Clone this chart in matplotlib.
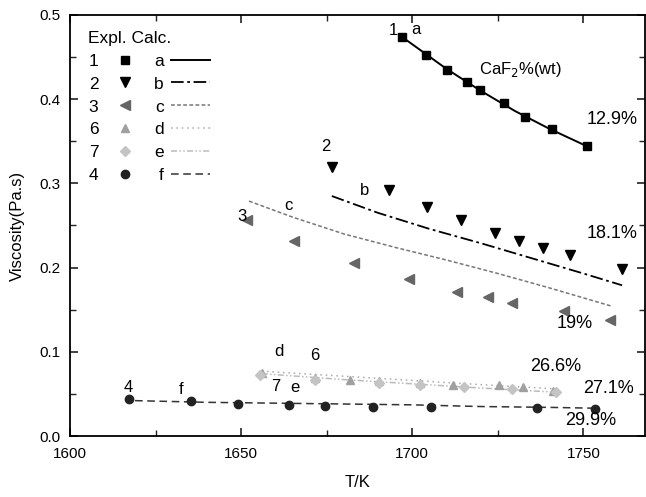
import matplotlib
matplotlib.use("Agg")
import matplotlib.pyplot as plt
from matplotlib.lines import Line2D
from matplotlib.ticker import MultipleLocator, FormatStrFormatter

plt.rcParams['font.family'] = ['Liberation Sans', 'DejaVu Sans']

# experimental viscosity, series 1..7 (T in K, viscosity in Pa.s)
t1 = [1697.0, 1704.0, 1710.1, 1716.0, 1719.9, 1726.9, 1733.0, 1740.9, 1751.1]
v1 = [0.474, 0.453, 0.435, 0.420, 0.411, 0.395, 0.379, 0.365, 0.344]
t2 = [1676.5, 1693.3, 1704.3, 1714.2, 1724.3, 1731.3, 1738.2, 1746.2, 1761.3]
v2 = [0.319, 0.292, 0.272, 0.257, 0.241, 0.232, 0.223, 0.215, 0.198]
t3 = [1651.7, 1665.5, 1683.0, 1699.1, 1713.1, 1722.0, 1729.1, 1744.2, 1757.9]
v3 = [0.257, 0.231, 0.206, 0.186, 0.171, 0.165, 0.158, 0.148, 0.138]
t6 = [1656.0, 1671.6, 1681.9, 1690.4, 1702.3, 1712.0, 1725.2, 1732.5, 1741.0]
v6 = [0.075, 0.069, 0.067, 0.065, 0.063, 0.061, 0.060, 0.058, 0.054]
t7 = [1655.5, 1671.6, 1690.4, 1702.3, 1715.0, 1729.0, 1742.0]
v7 = [0.072, 0.066, 0.063, 0.060, 0.058, 0.056, 0.052]
t4 = [1617.1, 1635.3, 1649.2, 1663.9, 1674.6, 1688.5, 1705.5, 1736.5, 1753.4]
v4 = [0.044, 0.041, 0.038, 0.037, 0.036, 0.035, 0.035, 0.033, 0.032]

# calculated curves a..f
ta = [1697.0, 1710.0, 1720.0, 1730.0, 1740.0, 1751.1]
va = [0.474, 0.436, 0.410, 0.386, 0.365, 0.344]
tb = [1676.5, 1690.0, 1705.0, 1720.0, 1735.0, 1750.0, 1761.3]
vb = [0.285, 0.265, 0.246, 0.229, 0.211, 0.193, 0.179]
tc = [1652.3, 1665.0, 1680.0, 1695.0, 1710.0, 1725.0, 1740.0, 1758.4]
vc = [0.279, 0.260, 0.240, 0.224, 0.209, 0.193, 0.176, 0.154]
td = [1656.0, 1680.0, 1700.0, 1720.0, 1742.0]
vd = [0.077, 0.071, 0.066, 0.061, 0.056]
te = [1656.0, 1680.0, 1700.0, 1720.0, 1742.0]
ve = [0.074, 0.067, 0.062, 0.057, 0.052]
tf = [1619.0, 1640.0, 1660.0, 1680.0, 1700.0, 1720.0, 1740.0, 1753.4]
vf = [0.042, 0.040, 0.039, 0.038, 0.037, 0.035, 0.034, 0.033]

expl_labels = ['1', '2', '3', '6', '7', '4']
calc_labels = ['a', 'b', 'c', 'd', 'e', 'f']

# marker / line styles per series
expl_style = [dict(marker='s', color='black', ms=6),
              dict(marker='v', color='black', ms=6.5),
              dict(marker='<', color='#666666', ms=6.5),
              dict(marker='^', color='#a0a0a0', ms=6),
              dict(marker='D', color='#c4c4c4', ms=5),
              dict(marker='o', color='#222222', ms=6)]
calc_style = [dict(color='black', lw=1.4, ls='-'),
              dict(color='black', lw=1.3, dashes=(7, 2, 1.5, 2)),
              dict(color='#777777', lw=1.1, dashes=(2.5, 1.5)),
              dict(color='#aaaaaa', lw=1.1, dashes=(1, 2.5)),
              dict(color='#bbbbbb', lw=1.1, dashes=(4, 1.5, 1, 1.5, 1, 1.5)),
              dict(color='#333333', lw=1.1, dashes=(5, 3))]

fig = plt.figure(figsize=(6.46, 4.97), dpi=100)
ax = fig.add_axes([70 / 646, 61 / 497, 575 / 646, 421 / 497])

for (t, v), st in zip([(ta, va), (tb, vb), (tc, vc), (td, vd), (te, ve), (tf, vf)],
                      calc_style):
    ax.plot(t, v, **st)

for (t, v), st in zip([(t1, v1), (t2, v2), (t3, v3), (t6, v6), (t7, v7), (t4, v4)],
                      expl_style):
    ax.plot(t, v, ls='none', **st)

ax.set_xlim(1600, 1768)
ax.set_ylim(0, 0.5)
ax.xaxis.set_major_locator(MultipleLocator(50))
ax.xaxis.set_minor_locator(MultipleLocator(25))
ax.yaxis.set_major_locator(MultipleLocator(0.1))
ax.yaxis.set_minor_locator(MultipleLocator(0.05))
ax.yaxis.set_major_formatter(FormatStrFormatter('%.1f'))
ax.tick_params(which='both', direction='in', top=True, right=True,
               labelsize=11, color='#222222')
ax.tick_params(which='major', length=6, width=1.2)
ax.tick_params(which='minor', length=4, width=1.0)
ax.tick_params(axis='x', pad=8)
ax.tick_params(axis='y', pad=7)
for s in ax.spines.values():
    s.set_linewidth(1.3)
ax.set_xlabel('T/K', fontsize=12, labelpad=10)
ax.set_ylabel('Viscosity(Pa.s)', fontsize=12, labelpad=10)

# legend: experimental markers column then calculated lines column
handles = [Line2D([], [], ls='none', **st) for st in expl_style]
handles += [Line2D([], [], **st) for st in calc_style]
leg = ax.legend(handles, expl_labels + calc_labels, ncol=2, markerfirst=False,
                frameon=False, loc='upper left', bbox_to_anchor=(0.005, 1.0),
                title='Expl. Calc.', title_fontsize=12.5, fontsize=12.5,
                handlelength=2.3, handletextpad=0.4, columnspacing=0.5,
                labelspacing=0.45)
leg._legend_box.align = 'left'

# annotations
fs = 12
ax.text(1694.4, 0.482, '1', fontsize=fs, ha='center', va='center')
ax.text(1701.2, 0.483, 'a', fontsize=fs, ha='center', va='center')
ax.text(1731.6, 0.435, 'CaF$_2$%(wt)', fontsize=fs, ha='center', va='center')
ax.text(1758.5, 0.376, '12.9%', fontsize=13, ha='center', va='center')
ax.text(1674.6, 0.344, '2', fontsize=fs, ha='center', va='center')
ax.text(1686.0, 0.291, 'b', fontsize=fs, ha='center', va='center')
ax.text(1758.5, 0.240, '18.1%', fontsize=13, ha='center', va='center')
ax.text(1650.3, 0.261, '3', fontsize=fs, ha='center', va='center')
ax.text(1663.7, 0.274, 'c', fontsize=fs, ha='center', va='center')
ax.text(1747.4, 0.134, '19%', fontsize=13, ha='center', va='center')
ax.text(1661.1, 0.100, 'd', fontsize=fs, ha='center', va='center')
ax.text(1671.6, 0.096, '6', fontsize=fs, ha='center', va='center')
ax.text(1741.8, 0.083, '26.6%', fontsize=13, ha='center', va='center')
ax.text(1660.2, 0.059, '7', fontsize=fs, ha='center', va='center')
ax.text(1665.8, 0.058, 'e', fontsize=fs, ha='center', va='center')
ax.text(1757.3, 0.056, '27.1%', fontsize=13, ha='center', va='center')
ax.text(1617.0, 0.058, '4', fontsize=fs, ha='center', va='center')
ax.text(1632.5, 0.055, 'f', fontsize=fs, ha='center', va='center')
ax.text(1752.0, 0.019, '29.9%', fontsize=13, ha='center', va='center')

fig.savefig('out.png', dpi=100)
